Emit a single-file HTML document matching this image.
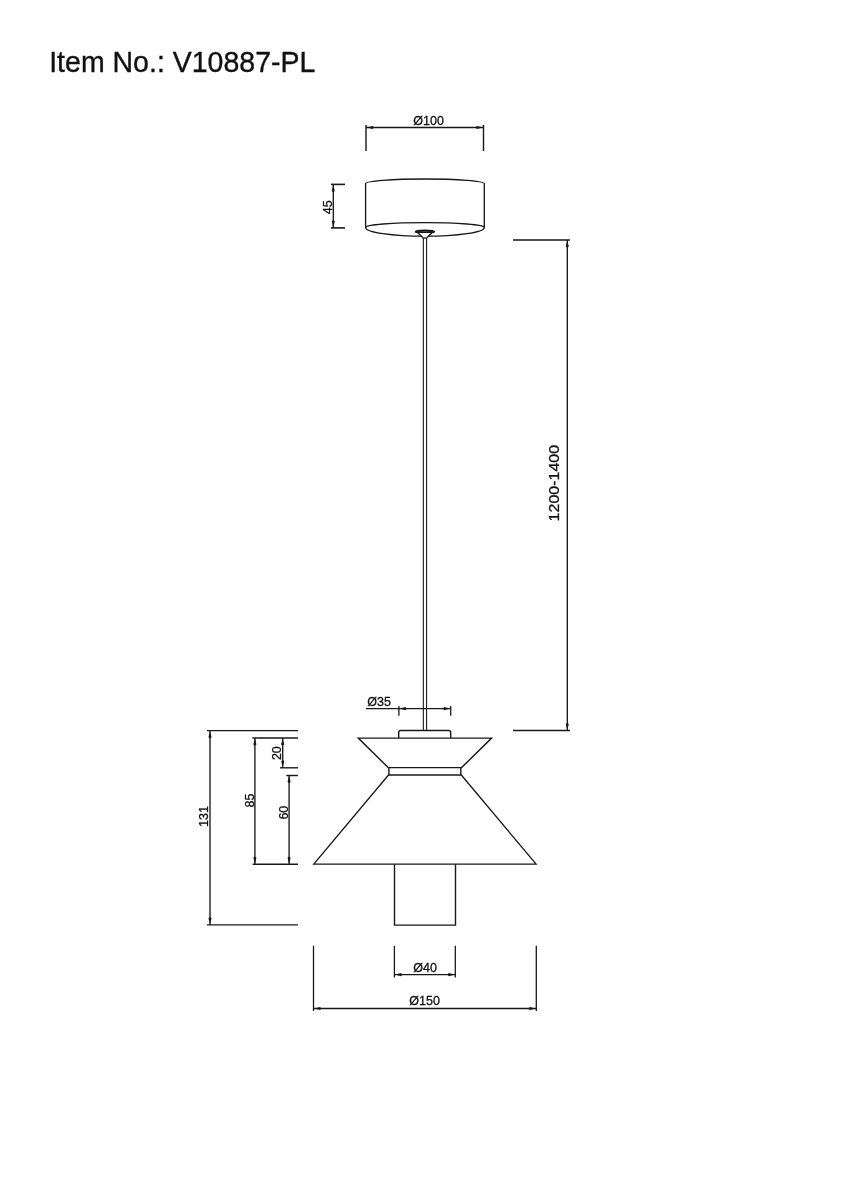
<!DOCTYPE html>
<html>
<head>
<meta charset="utf-8">
<style>
html,body{margin:0;padding:0;background:#fff;}
body{width:848px;height:1200px;overflow:hidden;position:relative;}
svg{position:absolute;left:0;top:0;will-change:transform;}
text{font-family:"Liberation Sans",sans-serif;fill:#111;}
</style>
</head>
<body>
<svg width="848" height="1200" viewBox="0 0 848 1200">
<rect x="0" y="0" width="848" height="1200" fill="#fff"/>
<text transform="translate(49.2,71.8) scale(1,1.05)" font-size="28.5" stroke="#111" stroke-width="0.35">Item No.: V10887-PL</text>

<g fill="none" stroke="#181818" stroke-width="1.35">
  <!-- O100 dim -->
  <line x1="366" y1="125" x2="366" y2="151" stroke-width="1.4"/>
  <line x1="483.5" y1="125" x2="483.5" y2="151" stroke-width="1.4"/>
  <line x1="366" y1="127.5" x2="483.5" y2="127.5"/>

  <!-- canopy -->
  <path d="M365.6,227.4 L365.6,183.6 A59.35,4.6 0 0 1 484.3,183.6 L484.3,227.4"/>
  <path d="M365.6,227.4 A59.35,4.8 0 0 1 484.3,227.4 A59.35,8.8 0 0 1 365.6,227.4 Z"/>
  <ellipse cx="424.9" cy="231.7" rx="9.3" ry="1.15" stroke-width="1.9" fill="#888"/>
  <path d="M418,232.9 L422.7,237.4 L427.1,237.4 L431.8,232.9 Z" fill="#fff" stroke="none"/>
  <path d="M418,232.9 L422.7,237.4 M431.8,232.9 L427.1,237.4" stroke-width="1.4"/>
  <line x1="422.4" y1="238" x2="427.4" y2="238" stroke-width="1.3"/>

  <!-- cable -->
  <line x1="423.35" y1="238" x2="423.35" y2="730.5" stroke="#222" stroke-width="1.15"/>
  <line x1="426.55" y1="238" x2="426.55" y2="730.5" stroke="#222" stroke-width="1.15"/>

  <!-- 45 dim -->
  <line x1="331" y1="184.4" x2="345" y2="184.4" stroke-width="1.6"/>
  <line x1="331" y1="227.9" x2="345" y2="227.9" stroke-width="1.6"/>
  <line x1="333.3" y1="184.4" x2="333.3" y2="227.9"/>

  <!-- 1200-1400 dim -->
  <line x1="513" y1="239.9" x2="570" y2="239.9" stroke-width="1.5"/>
  <line x1="513" y1="730.5" x2="570" y2="730.5" stroke-width="1.5"/>
  <line x1="567.3" y1="239.9" x2="567.3" y2="730.5"/>

  <!-- O35 dim -->
  <line x1="366" y1="708.6" x2="450.7" y2="708.6"/>
  <line x1="398.9" y1="705.9" x2="398.9" y2="715.8" stroke-width="1.3"/>
  <line x1="450.7" y1="705.9" x2="450.7" y2="715.8" stroke-width="1.3"/>

  <!-- shade -->
  <path d="M398.7,738 L398.7,732.5 Q398.7,730.5 400.7,730.5 L448.7,730.5 Q450.7,730.5 450.7,732.5 L450.7,738" stroke-width="1.4"/>
  <path d="M358.3,738.1 L491.6,738.1 L461.6,767.6 L388.2,767.6 Z" stroke-width="1.4"/>
  <path d="M388.9,767.6 L388.9,775 M460.8,767.6 L460.8,775" stroke-width="1.4"/>
  <path d="M388.5,775 L461.3,775 L536.1,864.2 L313.8,864.2 Z" stroke-width="1.3"/>
  <path d="M394.5,864.3 L394.5,925.1 L455.5,925.1 L455.5,864.3" stroke-width="1.4"/>

  <!-- 131 dim -->
  <line x1="207" y1="730.6" x2="298" y2="730.6" stroke-width="1.3"/>
  <line x1="207" y1="924.9" x2="298" y2="924.9" stroke-width="1.3"/>
  <line x1="210" y1="730.6" x2="210" y2="924.9"/>

  <!-- 85 / 20 / 60 dims -->
  <line x1="252.4" y1="738" x2="298" y2="738" stroke-width="1.6"/>
  <line x1="252.7" y1="864.3" x2="298" y2="864.3" stroke-width="1.4"/>
  <line x1="254.9" y1="738" x2="254.9" y2="864.3"/>
  <line x1="280" y1="767.8" x2="298" y2="767.8" stroke-width="1.4"/>
  <line x1="282.7" y1="738" x2="282.7" y2="767.8"/>
  <line x1="286.3" y1="775.5" x2="298" y2="775.5" stroke-width="1.4"/>
  <line x1="289.1" y1="775.5" x2="289.1" y2="864.3"/>

  <!-- O40 dim -->
  <line x1="394.4" y1="945.8" x2="394.4" y2="977.5" stroke-width="1.3"/>
  <line x1="455.3" y1="945.8" x2="455.3" y2="977.5" stroke-width="1.3"/>
  <line x1="394.4" y1="974.6" x2="455.3" y2="974.6"/>

  <!-- O150 dim -->
  <line x1="313.5" y1="945.8" x2="313.5" y2="1011" stroke-width="1.3"/>
  <line x1="536.3" y1="945.8" x2="536.3" y2="1011" stroke-width="1.3"/>
  <line x1="313.5" y1="1008.5" x2="536.3" y2="1008.5"/>
</g>

<!-- arrowheads -->
<g fill="#181818" stroke="none">
  <path d="M366.70,127.50 L372.70,129.05 L373.90,127.50 L372.70,125.95 Z"/>
  <path d="M482.80,127.50 L476.80,125.95 L475.60,127.50 L476.80,129.05 Z"/>
  <path d="M333.30,185.00 L331.75,191.00 L333.30,192.20 L334.85,191.00 Z"/>
  <path d="M333.30,227.30 L334.85,221.30 L333.30,220.10 L331.75,221.30 Z"/>
  <path d="M567.30,240.50 L565.75,246.50 L567.30,247.70 L568.85,246.50 Z"/>
  <path d="M567.30,730.00 L568.85,724.00 L567.30,722.80 L565.75,724.00 Z"/>
  <path d="M399.50,708.60 L405.50,710.15 L406.70,708.60 L405.50,707.05 Z"/>
  <path d="M450.10,708.60 L444.10,707.05 L442.90,708.60 L444.10,710.15 Z"/>
  <path d="M210.00,731.20 L208.45,737.20 L210.00,738.40 L211.55,737.20 Z"/>
  <path d="M210.00,924.30 L211.55,918.30 L210.00,917.10 L208.45,918.30 Z"/>
  <path d="M254.90,738.60 L253.35,744.60 L254.90,745.80 L256.45,744.60 Z"/>
  <path d="M254.90,863.70 L256.45,857.70 L254.90,856.50 L253.35,857.70 Z"/>
  <path d="M282.70,738.60 L281.15,744.60 L282.70,745.80 L284.25,744.60 Z"/>
  <path d="M282.70,767.20 L284.25,761.20 L282.70,760.00 L281.15,761.20 Z"/>
  <path d="M289.10,776.10 L287.55,782.10 L289.10,783.30 L290.65,782.10 Z"/>
  <path d="M289.10,863.70 L290.65,857.70 L289.10,856.50 L287.55,857.70 Z"/>
  <path d="M395.00,974.60 L401.00,976.15 L402.20,974.60 L401.00,973.05 Z"/>
  <path d="M454.70,974.60 L448.70,973.05 L447.50,974.60 L448.70,976.15 Z"/>
  <path d="M314.10,1008.50 L320.10,1010.05 L321.30,1008.50 L320.10,1006.95 Z"/>
  <path d="M535.70,1008.50 L529.70,1006.95 L528.50,1008.50 L529.70,1010.05 Z"/>
</g>

<!-- dimension labels -->
<g font-size="12.5" stroke="#111" stroke-width="0.3">
  <text x="413.3" y="124.8">Ø100</text>
  <text x="367.3" y="705.9">Ø35</text>
  <text x="413.3" y="971.8">Ø40</text>
  <text x="409.3" y="1005.2">Ø150</text>
  <text transform="translate(331.7,214.2) rotate(-90)">45</text>
  <text transform="translate(280.9,760.1) rotate(-90)">20</text>
  <text transform="translate(208,827) rotate(-90)">131</text>
  <text transform="translate(253.8,807.5) rotate(-90)">85</text>
  <text transform="translate(288.1,819.6) rotate(-90)">60</text>
  <text transform="translate(559,521.4) rotate(-90) scale(1.04,1)" font-size="15.4">1200-1400</text>
</g>
</svg>
</body>
</html>
